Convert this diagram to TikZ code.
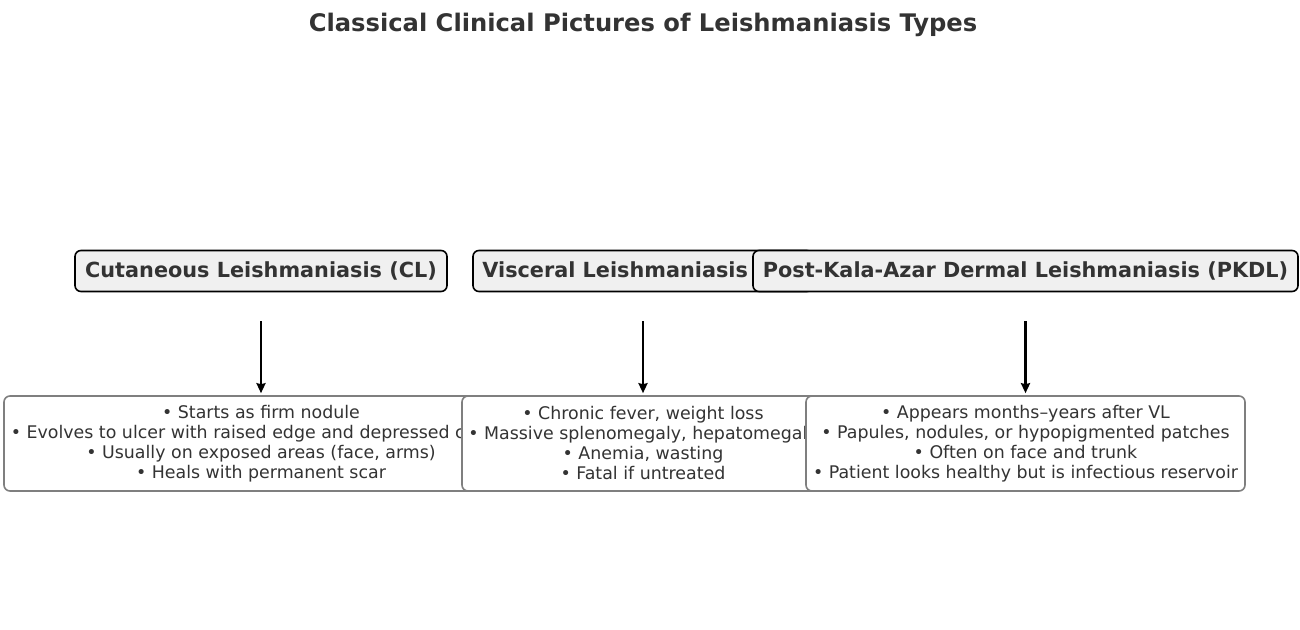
\documentclass[tikz,border=0pt]{standalone}
\usepackage{fontspec}
\setmainfont{DejaVu Sans}
\usetikzlibrary{arrows.meta}
\definecolor{txt}{HTML}{333333}
\definecolor{hdrfill}{HTML}{F0F0F0}
\definecolor{bodyedge}{HTML}{7F7F7F}
\tikzset{
  hdr/.style={draw=black, line width=1.6pt, fill=hdrfill, rounded corners=6pt,
    inner sep=0pt, minimum height=41pt, text=txt,
    font=\bfseries\fontsize{20.8}{24}\selectfont},
  bodybox/.style={draw=bodyedge, line width=1.6pt, fill=white, rounded corners=6pt,
    inner sep=0pt, minimum height=95pt, align=center, text=txt,
    font=\fontsize{17.4}{20}\selectfont},
  flow/.style={line width=2.4pt, -{Stealth[length=10pt,width=9pt,inset=1pt]}, shorten >=2pt},
  ttl/.style={text=txt, font=\bfseries\fontsize{24.2}{28}\selectfont}
}
\begin{document}
\begin{tikzpicture}[x=1pt,y=-1pt]
\useasboundingbox (0,0) rectangle (1300,629);
\node[ttl] (title) at (643,24.5) {Classical Clinical Pictures of Leishmaniasis Types};
% CL
\node[hdr, minimum width=372pt] (clh) at (261,271) {Cutaneous Leishmaniasis (CL)};
\node[bodybox, minimum width=514pt] (clb) at (261,443.5) {• Starts as firm nodule\\• Evolves to ulcer with raised edge and depressed center\\• Usually on exposed areas (face, arms)\\• Heals with permanent scar};
\draw[flow] ([yshift=-29pt]clh.south) -- (clb.north);
% VL
\node[hdr, minimum width=340pt] (vlh) at (643,271) {Visceral Leishmaniasis (VL)};
\node[bodybox, minimum width=362pt] (vlb) at (643,443.5) {• Chronic fever, weight loss\\• Massive splenomegaly, hepatomegaly\\• Anemia, wasting\\• Fatal if untreated};
\draw[flow] ([yshift=-29pt]vlh.south) -- (vlb.north);
% PKDL
\node[hdr, minimum width=545pt] (pkh) at (1025.5,271) {Post-Kala-Azar Dermal Leishmaniasis (PKDL)};
\node[bodybox, minimum width=439pt] (pkb) at (1025.5,443.5) {• Appears months–years after VL\\• Papules, nodules, or hypopigmented patches\\• Often on face and trunk\\• Patient looks healthy but is infectious reservoir};
\draw[flow] ([yshift=-29pt]pkh.south) -- (pkb.north);
\end{tikzpicture}
\end{document}
